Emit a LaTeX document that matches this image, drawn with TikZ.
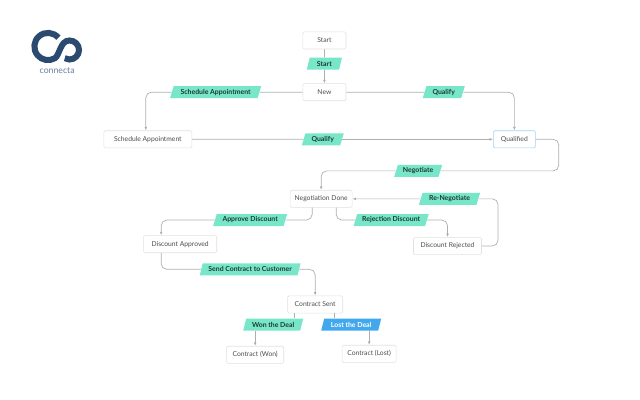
\documentclass[tikz,border=0pt]{standalone}
\usepackage{fontspec}
\setmainfont{Lato}
\usepackage{xcolor}
\usetikzlibrary{arrows.meta,shapes.geometric,positioning,calc}
\definecolor{crmteal}{RGB}{120,230,200}
\definecolor{crmblue}{RGB}{66,168,238}
\definecolor{crmnavy}{RGB}{42,74,112}
\definecolor{crmline}{RGB}{175,175,175}
\definecolor{crmedge}{RGB}{225,225,225}

\begin{document}
\begin{tikzpicture}[
    box/.style={rectangle, draw=crmedge, fill=white, rounded corners=1pt, minimum height=0.43cm, inner sep=0pt, align=center, font=\fontsize{4.8}{6}\selectfont, text=black!70},
    tag/.style={trapezium, trapezium left angle=60, trapezium right angle=120, trapezium stretches body, fill=crmteal, minimum height=0.3cm, inner sep=0pt, font=\bfseries\fontsize{4.9}{6}\selectfont, text=black!75!crmteal},
    link/.style={draw=crmline, line width=0.5pt, rounded corners=4pt},
    linkto/.style={link, -{Latex[length=2.5pt,width=2pt]}}
]
    \useasboundingbox (0,0) rectangle (16,-10);

    % logo
    \draw[crmnavy, line width=4.3pt] (1.46,-0.944) arc[start angle=40, end angle=300, radius=0.34]
        .. controls (1.5,-1.375) and (1.5,-1.0125) .. (1.7375,-1.0125)
        arc[start angle=90, end angle=-120, radius=0.2375];
    \node[font=\fontsize{6.2}{7}\selectfont, text=crmnavy!70] (brand) at (1.43,-1.77) {connecta};

    \node[box, minimum width=1.08cm] (start) at (8.11,-1.01) {Start};
    \node[tag, minimum width=0.88cm, below=0.2cm of start] (lblstart) {Start};
    \node[box, minimum width=1.08cm, below=0.85cm of start] (new) {New};
    \node[tag, minimum width=2.28cm, left=1.07cm of new] (lblsched) {Schedule Appointment};
    \node[tag, minimum width=1.05cm, right=1.95cm of new] (lblqualtop) {Qualify};
    \node[tag, minimum width=1.05cm, below=0.8cm of new, xshift=-0.04cm] (lblqualmid) {Qualify};
    \node[box, minimum width=2.2cm, left=2.78cm of lblqualmid] (sched) {Schedule Appointment};
    \node[box, draw=crmblue!50, minimum width=1.05cm, right=3.77cm of lblqualmid] (qualified) {Qualified};
    \node[tag, minimum width=1.2cm, below=0.41cm of qualified, xshift=-2.405cm] (lblneg) {Negotiate};
    \node[box, minimum width=1.55cm, below=0.32cm of lblneg, xshift=-2.425cm] (ndone) {Negotiation Done};
    \node[tag, minimum width=1.53cm, right=1.7cm of ndone] (lblreneg) {Re-Negotiate};
    \node[box, minimum width=1.7cm, below=0.8cm of lblreneg, xshift=-0.05cm] (drej) {Discount Rejected};
    \node[tag, minimum width=1.88cm, below=0.15cm of ndone, xshift=1.75cm] (lblrej) {Rejection Discount};
    \node[tag, minimum width=1.85cm, below=0.15cm of ndone, xshift=-1.775cm] (lblapp) {Approve Discount};
    \node[box, minimum width=1.83cm, below=0.225cm of lblapp, xshift=-1.75cm] (dapp) {Discount Approved};
    \node[tag, minimum width=2.52cm, below=0.25cm of dapp, xshift=1.75cm] (lblsend) {Send Contract to Customer};
    \node[box, minimum width=1.38cm, below=0.5cm of lblsend, xshift=1.625cm] (csent) {Contract Sent};
    \node[tag, minimum width=1.5cm, below=0.125cm of csent, xshift=-1.05cm] (lblwon) {Won the Deal};
    \node[tag, fill=crmblue, text=white, minimum width=1.5cm, below=0.125cm of csent, xshift=0.9cm] (lbllost) {Lost the Deal};
    \node[box, minimum width=1.43cm, below=0.375cm of lblwon, xshift=-0.45cm] (cwon) {Contract (Won)};
    \node[box, minimum width=1.35cm, below=0.35cm of lbllost, xshift=0.45cm] (clost) {Contract (Lost)};

    \coordinate (negbend) at (13.97,-4.24);
    \coordinate (renegbend) at (12.45,-4.96);
    \coordinate (schednorth) at ($(sched.north)+(-0.05,0)$);
    \coordinate (appdrop) at ($(ndone.south)+(-0.225,0)$);
    \coordinate (rejdrop) at ($(ndone.south)+(0.375,0)$);
    \coordinate (dappnorth) at ($(dapp.north)+(-0.475,0)$);
    \coordinate (dappsouth) at ($(dapp.south)+(-0.475,0)$);
    \coordinate (wonout) at ($(csent.south)+(-0.525,0)$);
    \coordinate (lostout) at ($(csent.south)+(0.475,0)$);

    \draw[link] (start) -- (lblstart);
    \draw[linkto] (lblstart) -- (new);
    \draw[link] (new) -- (lblsched);
    \draw[linkto] (lblsched.west) -| (schednorth);
    \draw[link] (new) -- (lblqualtop);
    \draw[linkto] (lblqualtop.east) -| (qualified.north);
    \draw[link] (sched) -- (lblqualmid);
    \draw[linkto] (lblqualmid) -- (qualified);
    \draw[link] (qualified.east) -| (negbend |- lblneg.east) -- (lblneg.east);
    \draw[linkto] (lblneg.west) -| (ndone.north);
    \draw[link] (appdrop) |- (lblapp.east);
    \draw[linkto] (lblapp.west) -| (dappnorth);
    \draw[link] (rejdrop) |- (lblrej.west);
    \draw[linkto] (lblrej.east) -| (drej.north);
    \draw[link] (drej.east) -| (renegbend |- lblreneg.east) -- (lblreneg.east);
    \draw[linkto] (lblreneg) -- (ndone);
    \draw[link] (dappsouth) |- (lblsend.west);
    \draw[linkto] (lblsend.east) -| (csent.north);
    \draw[link] (wonout) -- (wonout |- lblwon.north);
    \draw[linkto] (cwon.north |- lblwon.south) -- (cwon.north);
    \draw[link] (lostout) -- (lostout |- lbllost.north);
    \draw[linkto] (clost.north |- lbllost.south) -- (clost.north);
\end{tikzpicture}
\end{document}
